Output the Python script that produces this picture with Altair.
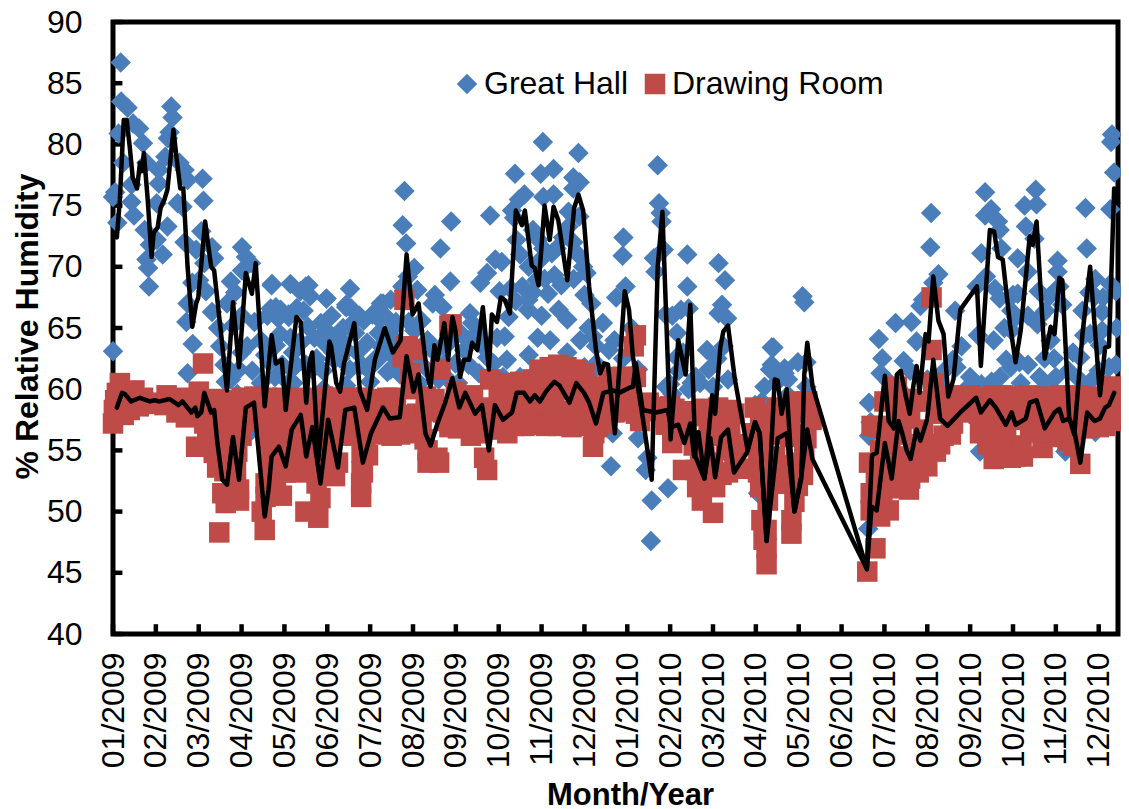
import altair as alt
import pandas as pd

month_labels = ["01/2009","02/2009","03/2009","04/2009","05/2009","06/2009","07/2009","08/2009","09/2009","10/2009","11/2009","12/2009",
                "01/2010","02/2010","03/2010","04/2010","05/2010","06/2010","07/2010","08/2010","09/2010","10/2010","11/2010","12/2010"]
y_ticks = [40,45,50,55,60,65,70,75,80,85,90]

# (month position, % RH)
great_hall_a = [(.18,86.7),(.19,83.5),(.34,83),(.13,80.9),(.47,81.7),(.61,81.3),(.70,80.1),(.24,78.5),(.78,78.5),(0,75.7),(.05,76.1),(.1,73.6),
 (.43,76.7),(.43,75.3),(.49,74.2),(.74,73),(.86,71.8),(.78,70.6),(.82,69.9),(.84,68.4),(1.07,77.9),(1.07,76.8),(1.22,79),(1.36,83.1),(1.39,82.2),
 (1.32,81),(1.28,80.5),(1.55,78.5),(1.67,77.9),(1.74,77.1),(1.02,75.2),(1.27,73.3),(1.16,71),(1.02,72.2),(1.51,75.2),(1.62,74.9),(2.09,77.2),(2.11,75.4),
 (1.67,72),(1.94,71.4),(2.06,72.9),(2.31,71.6),(2.36,70.7),(2.13,70.3),(1.85,68.7),(1.74,67),(2.01,68.9),(2.17,68),(2.31,66.3),(1.71,65.5),
 (3.01,71.6),(3.1,70.8),(3.22,70.3),(3.01,69.7),(2.75,68.8),(2.85,67.9),(2.66,67),(3.71,68.6),(3.68,66.6),(3.91,66.5),(4.14,68.6),(4.37,68),
 (4.56,68.5),(4.6,67.6),(4.98,67.4),(4.29,66.6),(4.1,65.9),(5.53,68.2),(5.44,66.9),(5.56,66.6),(4.98,64.8),(5.37,65),(6.13,66.3)]
great_hall_b = [(0,63.1),(1.86,63.7),(1.74,61.3),(2.94,61.6),(2.63,60.6),(3.45,60.5),(3.13,63.5),(3.75,63.6),(4.17,61.6),(4.33,63.8),(4.98,63.6),(5.33,64),
 (2.5,63.5),(2.8,65.2),(3.3,65.5),(3.55,62.8),(3.9,64.5),(4.55,65.1),(4.75,62.5),
 (3.7,68.5),(4.5,68.4),(4.98,67.4),(5.44,66.7),(6.25,67),(6.05,66.1),(3.8,66.7),(4.28,66.6),(4.1,66.1),(3.85,65.8),(4.98,64.6),(5.21,64),(4.38,63.8),(4.14,64.2),(3.8,63.6),
 (5.53,65.2),(5.65,64.6),(5.93,63.8),(6.53,65),(6.25,63.5),(6.75,68.4),(5.53,61.6),(5.16,62.4),(4.65,61.6),(4.28,62),(3.78,61),(4.21,60.5),(4.91,60),(5.44,60.3),
 (5.8,62),(6.0,60.6),(6.4,61.4),(3.4,59.5),(2.9,59.6),(5.7,56.7),(3.2,56.5)]
great_hall_c = [(6.8,76.2),(6.76,73.4),(6.84,71.9),(7.03,69.9),(6.88,69.2),(6.48,67.3),(6.3,67),(7.1,68.1),(7.51,67.7),(7.69,66.7),(7.46,67),(7.89,73.7),(7.64,71.5),(7.87,68.8),
 (8.8,74.2),(9.38,77.6),(10.03,80.2),(9.98,77.6),(10.28,78),(10.86,79.3),(10.74,77.3),(10.89,76.9),(10.74,76.4),(9.6,75.9),(9.47,75.5),(9.31,74.6),(10.04,75.7),(10.28,75.9),
 (9.36,74),(10.63,74.5),(10.88,74.1),(10.63,73.3),(9.42,72.2),(9.8,73),(9.93,72.2),(10.74,72),(10.5,72.4),(9.5,71),(10.04,71.5),(10.24,71.1),(8.92,70.6),(9.07,70.4),(8.73,69.5),
 (8.57,68.7),(9.02,68),(9.27,68.2),(9.88,68.9),(10.3,69.3),(10.46,68.5),(10.07,69),(10.97,70),(9.8,67.9),(9.69,67.3),(9.68,66.5),(11,67.7),(11.16,67),(9.23,65.9),(10.6,65.7),
 (11.43,65.4),(11.2,64.3),(11.27,63.5),(8.33,66.2),(8.38,65.4),(9.14,64.3),(9.91,64.2),(8.96,64.2),(9.19,62.4),(8.88,62.1),(11.27,62.1),(11.57,63.2),(11.74,67.5),(11.91,72.4),
 (11.89,70.9),(11.96,68.4),(12.25,61.6),(11.66,56.4),(12.25,56),(11.62,53.7),(12.95,51.9),(12.57,50.9),(12.55,47.6),(12.43,53.4),(12.47,54.4),
 (6.22,65.7),(6.41,64),(6.18,62.4),(6.48,61.6),(6.64,63.8),(7.03,64.8),(7.34,64),(7.5,63),(7.18,62.1),(7.73,62.1),(7.99,62.1),(8.11,64.6),(8.19,63.2),(8.5,64.6),(8.73,62.6),(8.54,61.3),
 (7.9,64),(7.2,65.6),(6.9,65.5),(8.3,64),(7.7,63.6),(11.7,64),(11.9,62.5),(12.1,65)]
great_hall_d = [(12.71,78.3),(12.74,75.2),(12.78,74.4),(12.8,73.7),(12.62,70.7),(12.66,69.6),(12.85,71.4),(13.4,71),(14.13,70.3),(14.28,68.9),(13.4,68.4),(13.43,66.6),(14.21,66.9),
 (14.13,66.2),(14.33,65.8),(12.89,66.1),(13.16,64.6),(13.86,63.2),(13.9,61.6),(14.35,60.8),(13.05,66),(13.3,63),(13.6,61),(13.2,61.5),(13.5,60.5),(14.1,62.5),(14.25,63.5),
 (13.15,62.6),(13.0,60.4),(13.43,60),(13.05,59.6),(13.7,60.5),(14.0,60.2),(14.98,58.7),(15.37,63.4),(15.33,61.6),(15.67,61.3),(15.5,60.6),(15.75,60.8),(15.2,60.2),(15.05,51.5),
 (16.09,67.6),(16.13,67.1),(15.41,63.4),(15.37,62),(15.67,61.7),(15.98,62.2),(16.18,62.2),(16.18,60.2),(15.14,59),(15.75,59.5),(17.62,48.6),(17.64,58.9),(17.68,57.3),(17.64,56.2)]
great_hall_e = [(17.87,64.1),(17.95,62.5),(17.91,61.3),(18.26,65.4),(18.63,65.5),(18.45,62.3),(18.75,63.9),(18.84,66.8),(18.9,67.3),(19.09,74.4),(19.07,71.6),(19.26,69.4),(19.14,68.7),
 (19.65,66.4),(19.6,62.4),(19.68,61.8),(20.35,76.1),(20.49,74.7),(20.35,74.2),(20.65,73.7),(20.69,73),(20.73,71.5),(20.26,71.1),(20.37,69.2),(20.15,68.4),(20.58,68.2),(20.69,67.4),
 (21,67.7),(21.11,67.8),(20.96,66.4),(21.07,65.9),(20.96,64.8),(20.8,65),(20.18,64.4),(20.84,62.4),(21.15,62.2),(21.18,60.5),(20.26,60.4),(21.53,76.3),(21.27,75),(21.55,75.1),
 (21.3,73.3),(21.5,72.3),(21.11,70.7),(21.34,69.6),(21.57,65.3),(21.65,66),(21.85,67.6),(21.76,66.4),(21.88,64),(21.74,62.5),(21.96,62.5),(21.62,61),(22.04,70.5),(22.04,69.6),
 (22.15,66.9),(22.08,68.4),(22.69,74.8),(22.72,71.5),(23.27,74.7),(22.92,69),(22.78,67.9),(22.92,67.6),(22.62,66.4),(23.08,66.3),(23.27,68.6),(22.66,64.4),(23.08,64.8),(22.57,62.6),
 (23.03,63.6),(23.24,61.8),(23.31,80.8),(23.29,80.2),(23.36,77.7),(22.92,56.5),(22.22,54.9),(20.23,54.9),(19.3,60.3),(18.1,60.6),(18.4,59.8),(19.9,60),(20.5,60.6),(21.8,60.2)]
great_hall_f = [(2.45,65),(2.6,62),(2.75,60.8),(3.0,66),(3.0,63),(3.25,61.5),(3.45,64),(3.6,66),(3.65,62.2),(3.95,62),(4.1,60.5),(4.2,63),(4.45,66.4),(4.5,62),(4.7,64.2),(4.85,65.4),(4.9,61.5),(5.1,66),(5.15,63),
 (5.3,62.5),(5.45,63.2),(5.7,63),(5.75,66),(5.85,65.6),(5.95,61.6),(6.1,62.4),(6.2,64.6),(6.35,66),(6.5,62.8),(6.6,65.5),(6.7,61.2),(7,62),(7.15,60.5),(7.4,61.4),(7.6,60.8),(7.85,60.7),(8.05,60.5),(8.3,62),
 (8.6,63.6),(8.9,60.8),(9.1,61),(9.5,61),(9.7,62.8),(10,66),(10.2,64),(10.4,66.5),(10.6,63),(10.9,64),(11,61.8),(11.1,65),(9.4,67.2),(9.55,68.4),(9.7,70),(9.95,70.5),(10.15,67.8),(10.35,71.5),(10.75,69),(10.85,71),
 (11.05,69.5),(11.2,61.5),(12.9,60.2),(13.25,66.5),(19,60.8),(18.6,61.5),(19.4,61.5),(19.8,63.5),(20,61),(20.55,64),(20.7,61),(20.95,61.8),(21.35,62),(21.35,66),(21.6,68),(22,61),(22.3,61.5),(22.4,63),(22.55,60.8),
 (22.8,60.6),(22.8,64.5),(23,61.5),(23.2,60.5),(23.1,67.5),(23.4,68),(23.4,62),(23.42,65)]

drawing_room_a = [(0,57.2),(.02,58.3),(.05,59.1),(.16,60.5),(.09,59.7),(.32,58.5),(.5,59.9),(.39,58.3),(.7,59.3),(1,58.9),(1.25,59.5),(1.48,58.1),(1.7,59.3),(1.7,57.7),(1.94,55.3),(2.1,62.1),
 (2,59.8),(2.13,57.2),(2.31,59.1),(2.48,58.1),(2.48,48.3),(2.43,53.6),(2.55,51.5),(2.63,50.7),(2.94,50.9),(2.94,51.8),(2.87,53.4),(2.55,55.6),(2.71,58.3),(3.01,59.3),(2.98,56.9),(3.17,59.1),
 (3.56,51.2),(3.47,50),(3.54,48.5),(3.94,51.3),(3.56,52.3),(3.8,52.9),(4.03,53.2),(3.63,55),(3.7,56.7),(3.59,58.5),(4.03,58.3),(4.14,55.9),(4.49,50),(4.79,49.5),(4.84,51.1),(4.75,52.3),
 (4.72,53.4),(5.18,52.9),(5.25,54),(4.33,58.3),(4.72,58.5),(5.09,58.5),(5.18,56.7),(5.79,51.2),(5.83,53.2),(5.65,58.3),(5.87,56.1),(4.49,55.9),(5.79,52.3),(5.95,54.6),(6.6,56.9),(6.25,56.7),
 (4.14,53.2),(3.3,59.4),(3.4,57.4),(3.75,58.9),(3.95,59.3),(4.2,59),(4.55,59.2),(4.9,59.4),(5.35,59.3),(5.5,59.3),(5.9,59),(6.15,59.2),(6.4,59.3),(6.6,58.7),(6.25,58.1),(4.35,56.6),(4.95,56.2),(5.45,56.4),(3.75,56.9),(3.15,57.4),(2.2,55.7)]
drawing_room_b = [(6.8,67.3),(6.84,63.5),(6.76,62.6),(7.03,63.2),(6.94,61.3),(7.34,54),(7.61,54),(7.34,55),(7.27,55.9),(7.85,65.2),(7.64,61.6),(7.9,65.3),(6.88,63.5),(7.38,54.1),(7.57,54.4),(8.73,53.4),(8.66,54.4),
 (8.8,60.8),(8.49,56.4),(9.2,56.4),(9.84,57.5),(10.63,57.2),(11.2,55.3),(11.23,56.4),(11.2,57.5),(10.39,62),(10.81,61.6),(10.19,61),(10.3,59.7),(12.2,64.4),(12.15,63.5),(12.2,58),(12.04,59.4),(12.13,61),
 (11.74,59.4),(11.34,60.2),(11.27,58.5),(6.95,60),(7.1,58),(7.3,59.4),(7.5,59.2),(7.7,58.5),(8,59.8),(8.2,58),(8.4,59.5),(8.55,58),(8.75,58.5),(9,59.5),(9,57.3),(9.3,59.5),(9.5,59.8),(9.7,60),(9.9,59),(10,60.2),
 (10.1,58.2),(10.4,60),(10.6,60.3),(10.8,59.5),(11,59.8),(11.1,58.5),(11.4,58.6),(11.55,59.8),(11.9,60),(7.05,56.6),(6.9,57.4),(7.2,57.3),(7.8,57.4),(8.05,56.8),(8.35,56.2),(8.6,56.9),(8.9,56.7),(9.05,57),
 (9.6,57.8),(10.45,58),(10.8,58),(11.4,57.4)]
drawing_room_c = [(12.5,58.9),(12.89,58.5),(13.28,58),(13.05,55.6),(13.3,53.4),(13.63,52),(13.74,50.9),(14,49.9),(14.05,52),(14.35,53.2),(14.32,58.3),(14.12,58.5),(13.59,53.4),(14.98,58.5),(14.98,56.4),(15.05,53.2),
 (15.13,49.3),(15.18,47.7),(15.25,45.7),(15.28,51),(15.8,57.7),(15.67,52.3),(15.83,48.2),(15.83,49.3),(15.8,56.1),(15.51,57.2),(12.35,58.2),(12.7,58.3),(13.1,58.4),(13.5,58),(13.8,57.8),(13.3,56.5),(13.55,55.4),
 (13.8,54.5),(14.0,54),(14.2,56.5),(14.4,55.8),(14.5,54.4),(14.7,53.5),(13.9,56.2),(15.25,47),(15.25,48.5),(15.98,52.1),(15.63,52.3),(15.28,50.9),(16.09,58.1),(16.18,56),(16.13,54.6),(17.6,45.1),(17.79,47),
 (17.64,54),(17.68,51.5),(17.68,50.1),(17.9,49.6),(18.1,50.1),(17.87,56.9),(18.29,60.2),(18.14,55.4),(18.57,51.8),(18.6,52.7),(18.8,53.2),(18.8,54),(19.2,54.9),(19.1,67.5),(19.1,63.2),(19.14,60.5),(19.38,56.2),
 (19.6,57.2),(19.77,58.1),(18.0,57),(18.2,53.2),(18.4,56.3),(18.6,57.6),(18.9,56.7),(19.0,55.5),(18.3,58),(18.7,59),(19.5,58.1),(19.3,58),(19.9,58.4),(15.1,55.5),(15.4,56.3),(16.0,56.3)]
drawing_room_d = [(20.23,56.4),(20.14,59.1),(20.6,55.4),(21.06,54.5),(21.69,55.2),(21.23,54.5),(20.84,56.3),(22.57,53.9),(22.27,55.8),(22.15,56.2),(20.37,59.3),(20.76,59.5),(21.15,59.3),(21.53,59.3),(21.92,59.3),
 (22.3,59),(22.69,59.3),(23.08,59.3),(23.31,60.2),(23.45,60.2),(23.15,57),(23.38,57.4),(22.92,57.2),(20.3,57.4),(20.75,57.6),(21.1,57.5),(21.45,57.6),(21.85,57.4),(22.1,57.4),(22.5,57.4),(20.2,58),(20.55,58.6),
 (20.95,58.3),(21.3,58.5),(21.7,58.2),(22.05,58.5),(22.45,58.3),(22.85,58.6),(23.25,58.6),(20.05,59.2),(20.55,54.3),(21.0,55.4),(21.85,56.1)]
drawing_room_e = [(.6,58.6),(.85,58.8),(1.2,58.7),(1.45,59.2),(1.9,58.7),(.25,57.9),(.1,58.2),
 (2.45,59.2),(2.8,59.1),(3.6,59.3),(4.05,59.2),(4.4,59.3),(4.75,59.1),(5.1,59.3),(5.5,59.2),(5.85,59.3),(6.2,59.1),(6.55,59.3),
 (2.35,57.8),(2.75,57.9),(3.1,57.7),(3.5,57.8),(3.9,57.9),(4.25,57.8),(4.6,57.7),(5,57.8),(5.4,57.9),(5.75,57.8),(6.1,57.8),(6.45,57.7),(6.8,57.9),
 (2.3,56.3),(2.65,56.4),(3.0,56.2),(3.65,56.3),(3.95,56.4),(4.3,56.3),(4.65,56.2),(5.0,56.3),(5.3,56.4),(5.6,56.2),(5.9,56.3),(6.3,56.4),(6.7,56.3),
 (2.35,54.8),(2.65,54.8),(2.9,54.9),(3.65,54.7),(3.9,54.8),(4.2,54.9),(4.5,54.7),(4.8,54.8),(5.1,54.9),(5.8,54.8),
 (2.6,53.3),(2.85,53.2),(3.7,53.4),(4.0,53.3),(4.3,53.3),(4.6,53.2),(4.9,53.4),(5.8,53.3),
 (7.3,58.2),(7.7,58.1),(8.15,58.2),(8.5,58.2),(8.85,58.1),(9.25,58.2),(9.6,58.3),(9.95,58.2),(10.3,58.1),(10.65,58.2),(11,58.3),(11.35,58.2),(11.7,58.1),(12,58.2),
 (7.85,56.9),(8.1,56.9),(8.35,57),(8.5,56.8),(9.15,56.9),(9.35,57),(9.6,57),(9.85,57.1),(10.1,57),(10.4,57),(10.7,56.9),(11.05,57),(11.3,56.9),(11.5,57.2),(6.2,56.3),(6.5,56.2),(7,56.4),
 (10.19,61.8),(10.58,61.8),(11.0,61.3),(9.95,61.6),(9.8,60.8),(9.5,60.6),(9.26,60.5),(11.23,60.2),(11.57,61),(11.9,61),(12.2,61)]
drawing_room_f = [(12.3,57.4),(12.6,58.5),(13,58.6),(13.4,58.2),(13.8,58.4),(14.1,58),(14.5,58),(14.0,56.5),(13.6,55.8),(14.3,55),(14.4,56.8),(14.65,55.5),(13.3,57),(12.9,57.1),(13.05,57.3),(13.7,53.9),(13.9,52.8),(14.2,53),
 (15.3,58),(15.5,58.5),(15.7,58),(16,59),(16.2,59),(16.3,57.5),(15.1,57.5),(15.05,54.8),(15.45,54.5),(15.6,53.8),(15.95,54),(16.1,53),(15.1,52),(15.45,52.3),(15.9,50.8),
 (17.7,57),(18,59),(18.3,59.4),(18.6,59.2),(18.9,59),(19.2,59),(19.5,59.4),(19.8,59.5),(17.9,55),(17.8,53),(18.1,53.7),(18.4,54.5),(18.4,53),(18.7,55.5),(19,53.7),(19.3,55.5),(19.55,56.3),(18.2,51.9),(17.95,51.6),
 (20,59.5),(20.55,59.5),(20.95,59.4),(21.35,59.5),(21.75,59.4),(22.1,59.5),(22.5,59.5),(22.9,59.4),(23.25,59.5),
 (20.4,55.5),(20.7,56),(20.95,54.4),(21.2,55.3),(21.4,56.5),(21.65,56.5),(21.95,56.6),(22.2,56.6),(22.4,55.4),(22.7,56.8),(23,56.9),(23.3,58),(23.45,58.5),(23.4,59.3)]

great_hall_line = [(.09,72.4),(.16,75.5),(.25,82),(.32,82),(.39,79.8),(.46,77.3),(.56,76.4),(.63,78.5),(.67,77.8),(.72,79.3),(.81,75.5),(.90,70.8),(.95,72.8),(1.04,73.2),(1.11,74.8),(1.20,75.5),(1.27,76.3),(1.41,81.2),
 (1.48,79),(1.57,76.4),(1.64,76.4),(1.74,70),(1.85,65.1),(1.94,67),(1.99,67.5),(2.15,73.7),(2.29,70),(2.36,69.7),(2.52,64.6),(2.66,59.9),(2.80,67.1),(2.94,61.8),(3.10,69.5),(3.24,67.8),(3.33,70.3),(3.54,58.6),
 (3.70,64.4),(3.80,62.1),(3.94,62.4),(4.03,58.3),(4.28,65.9),(4.38,65.5),(4.51,58.9),(4.58,62.1),(4.65,63),(4.79,54.2),(5.05,63.9),(5.09,63.5),(5.21,60.5),(5.30,59.8),(5.39,62.1),(5.63,65.4),(5.76,59.9),(5.93,58.3),
 (6.11,62.4),(6.34,65),(6.53,63),(6.71,64),(6.85,71),(6.99,66.1),(7.13,67),(7.34,61),(7.41,60.2),(7.50,63.6),(7.57,62.4),(7.73,65.4),(7.82,62.4),(7.92,65.9),(7.99,64.8),(8.10,61),(8.19,62.4),(8.31,62.4),(8.38,63.8),
 (8.50,63.2),(8.63,66.7),(8.77,61.6),(8.84,66.1),(8.96,65.5),(9.05,67.5),(9.14,67.3),(9.26,66.2),(9.40,74.6),(9.54,73.4),(9.61,74.6),(9.77,70.1),(9.84,69.9),(9.93,68.5),(10.07,75),(10.19,72.2),(10.28,74.9),(10.39,73.8),
 (10.60,68.9),(10.76,74.8),(10.86,75.9),(10.97,74.6),(11.11,68.4),(11.27,63.2),(11.37,61.3),(11.46,62.1),(11.55,62),(11.71,56.4),(11.94,68),(12.04,66.5),(12.13,62.7),(12.36,57.7),(12.57,52.6),(12.71,70),(12.82,74.5),
 (13.01,55.9),(13.19,64),(13.36,61.2),(13.47,66.9),(13.59,54.5),(13.80,52.7),(13.98,59.5),(14.05,58),(14.17,63.4),(14.24,64.7),(14.35,65.2),(14.51,60.8),(14.81,55),(14.98,57.3),(15.09,56.4),(15.25,47.6),
 (15.44,60.8),(15.51,60.7),(15.60,58),(15.72,60),(15.90,50),(16.06,52.7),(16.13,61.2),(16.20,63.8),(16.32,60.3),(17.59,45.3),(17.71,54.6),(17.82,54.8),(18.01,61.1),(18.10,57.4),(18.22,56.8),(18.29,61.2),(18.38,61.5),
 (18.50,59.4),(18.59,58),(18.68,60.4),(18.75,61.9),(18.82,59.7),(18.96,64.5),(19.03,63.9),(19.14,69.2),(19.26,65.6),(19.38,64.5),(19.49,59.4),(19.61,60.8),(19.77,66.5),(20.16,68.4),(20.25,61.9),(20.46,73),(20.56,72.9),
 (20.65,70.8),(20.76,70.6),(20.93,65.3),(21.06,62.2),(21.18,64.8),(21.39,72.5),(21.46,71.8),(21.55,73.7),(21.74,62.5),(21.88,65.1),(21.97,64.5),(22.08,69.1),(22.15,68.9),(22.31,57.7),(22.43,56.3),(22.62,64.5),(22.80,70),
 (23.03,59.5),(23.15,63.4),(23.24,63.5),(23.36,76.4),(23.45,75.2)]

drawing_room_line = [(.09,58.5),(.21,59.7),(.28,59.6),(.42,59),(.63,59.3),(.86,59),(.97,59.1),(1.09,59),(1.32,59.2),(1.53,58.7),(1.62,59),(1.83,58.1),(1.92,58.5),(1.97,57.8),(2.06,58.1),(2.13,59.7),(2.29,58.1),(2.36,58.3),
 (2.43,55.8),(2.55,52.6),(2.66,52.2),(2.80,56.1),(2.94,52.6),(3.10,58.5),(3.29,58.9),(3.54,49.6),(3.63,51.8),(3.70,54.5),(3.87,55.3),(4.03,53.7),(4.17,56.7),(4.38,57.9),(4.51,54.5),(4.65,56.9),(4.84,52.3),(5.02,57.5),
 (5.25,53.6),(5.42,58.3),(5.63,58.5),(5.83,54),(6.02,56.4),(6.30,58.5),(6.46,57.6),(6.69,57.7),(6.85,62.7),(7.01,59.8),(7.13,61.2),(7.29,56.4),(7.41,55.4),(7.57,57.2),(7.75,58.9),(7.92,60.9),(8.08,58.5),(8.22,59.7),
 (8.45,58),(8.61,58.7),(8.77,55),(8.91,58.7),(9.10,57.5),(9.31,58.1),(9.42,59.7),(9.59,59.7),(9.73,59),(9.84,59.5),(9.96,59),(10.12,59.9),(10.30,60.6),(10.42,60.3),(10.65,58.9),(10.81,60.5),(10.99,59.7),(11.11,58.9),
 (11.27,57.2),(11.44,59.7),(11.67,59.9),(11.81,59.7),(12.04,60.1),(12.13,60.2),(12.2,62.1),(12.36,58.3),(12.67,58.1),(12.94,58.3),(13.03,56.9),(13.19,57.1),(13.33,55.6),(13.47,57.2),(13.56,54.5),(13.66,56.5),(13.80,52.7),
 (13.94,56),(14.05,52.8),(14.19,56.1),(14.35,56.7),(14.49,53.2),(14.79,54.8),(14.98,57.3),(15.09,56.4),(15.25,47.6),(15.51,56),(15.72,56.4),(15.90,50),(16.06,52.9),(16.20,56.7),(16.32,54.3),(17.59,45.3),(17.70,50.4),(17.82,50.1),
 (18.01,55.6),(18.17,52.7),(18.33,57.4),(18.40,56.6),(18.52,55),(18.61,54.3),(18.75,56.7),(18.84,55.8),(19.0,57.6),(19.14,62.4),(19.3,57.6),(19.47,57),(19.77,58.1),(20.14,59.3),(20.25,58.1),(20.46,59.1),(20.6,58.5),(20.83,57.1),
 (20.97,58.1),(21.06,57.1),(21.3,57.6),(21.39,58.9),(21.55,59.1),(21.74,56.8),(21.97,58.1),(22.08,58.4),(22.17,57.4),(22.31,57.6),(22.43,56.6),(22.57,54),(22.73,58.1),(22.9,57.4),(23.03,57.6),(23.15,58.5),(23.24,58.7),(23.36,59.7)]

FONT = "Liberation Sans"
BLUE = "#4A7EBB"
RED = "#BE4B48"
series_names = ["Great Hall", "Drawing Room"]

gh = great_hall_a + great_hall_b + great_hall_c + great_hall_d + great_hall_e + great_hall_f
dr = drawing_room_a + drawing_room_b + drawing_room_c + drawing_room_d + drawing_room_e + drawing_room_f
points = pd.DataFrame(
    [{"m": a, "rh": b, "series": series_names[0]} for a, b in gh] +
    [{"m": a, "rh": b, "series": series_names[1]} for a, b in dr])
lines = pd.DataFrame(
    [{"m": a, "rh": b, "series": series_names[0]} for a, b in great_hall_line] +
    [{"m": a, "rh": b, "series": series_names[1]} for a, b in drawing_room_line])

x_scale = alt.Scale(domain=[0, 23.45], nice=False, zero=False)
y_scale = alt.Scale(domain=[40, 90], nice=False, zero=False)
label_expr = "[" + ",".join("'%s'" % s for s in month_labels) + "][datum.value]"

x_axis = alt.Axis(
    values=list(range(len(month_labels))), labelExpr=label_expr, labelAngle=270, labelAlign="right",
    labelBaseline="middle", labelFontSize=32, labelFont=FONT, labelColor="black", labelPadding=18,
    labelOverlap=False, labelBound=False, labelFlush=False, tickSize=0, domain=False, grid=False,
    title="Month/Year", titleFontSize=31, titleFont=FONT, titleFontWeight="bold", titleColor="black",
    titleBaseline="alphabetic", titleX=517, titleY=170)
y_axis = alt.Axis(
    values=y_ticks, labelFontSize=32, labelFont=FONT, labelColor="black", labelPadding=31, tickSize=0,
    domain=False, grid=False, title="% Relative Humidity", titleFontSize=32, titleFont=FONT,
    titleFontWeight="bold", titleColor="black", titleBaseline="alphabetic", titleX=-76, titleY=304)

x_ticks_df = pd.DataFrame({"m": list(range(len(month_labels)))})
x_ticks_df["a"] = 40
x_ticks_df["b"] = 40.8
y_ticks_df = pd.DataFrame({"v": y_ticks})
y_ticks_df["a"] = 0
y_ticks_df["b"] = 0.22

x_tick_rules = alt.Chart(x_ticks_df).mark_rule(color="black", strokeWidth=4.5).encode(
    x=alt.X("m:Q", scale=x_scale, axis=x_axis),
    y=alt.Y("a:Q", scale=y_scale, axis=y_axis), y2="b:Q")
y_tick_rules = alt.Chart(y_ticks_df).mark_rule(color="black", strokeWidth=4.5).encode(
    y=alt.Y("v:Q", scale=y_scale, axis=y_axis),
    x=alt.X("a:Q", scale=x_scale, axis=x_axis), x2="b:Q")

pts = alt.Chart(points).mark_point(filled=True, size=420, opacity=1, strokeWidth=0).encode(
    x=alt.X("m:Q", scale=x_scale, axis=x_axis),
    y=alt.Y("rh:Q", scale=y_scale, axis=y_axis),
    color=alt.Color("series:N", scale=alt.Scale(domain=series_names, range=[BLUE, RED]), legend=alt.Legend(
        orient="none", legendX=338, legendY=46, direction="horizontal", columns=2, title=None,
        symbolSize=420, labelFontSize=32, labelFont=FONT, labelColor="black", labelOffset=1,
        columnPadding=10, padding=0, symbolStrokeWidth=0, labelLimit=400)),
    shape=alt.Shape("series:N", scale=alt.Scale(domain=series_names, range=["diamond", "square"])),
    order=alt.Order("series:N", sort="descending"))

lns = alt.Chart(lines).mark_line(color="black", strokeWidth=4.5, strokeJoin="round", strokeCap="round").encode(
    x=alt.X("m:Q", scale=x_scale, axis=x_axis), y=alt.Y("rh:Q", scale=y_scale, axis=y_axis), detail="series:N")

chart = (alt.layer(x_tick_rules, y_tick_rules, pts, lns)
         .properties(width=1005, height=612, background="white",
                     autosize=alt.AutoSizeParams(type="none"),
                     padding={"left": 105, "top": 14, "right": 3, "bottom": 178})
         .configure_view(stroke="black", strokeWidth=5))
chart.save("out.html", embed_options={"renderer": "svg", "actions": False})
